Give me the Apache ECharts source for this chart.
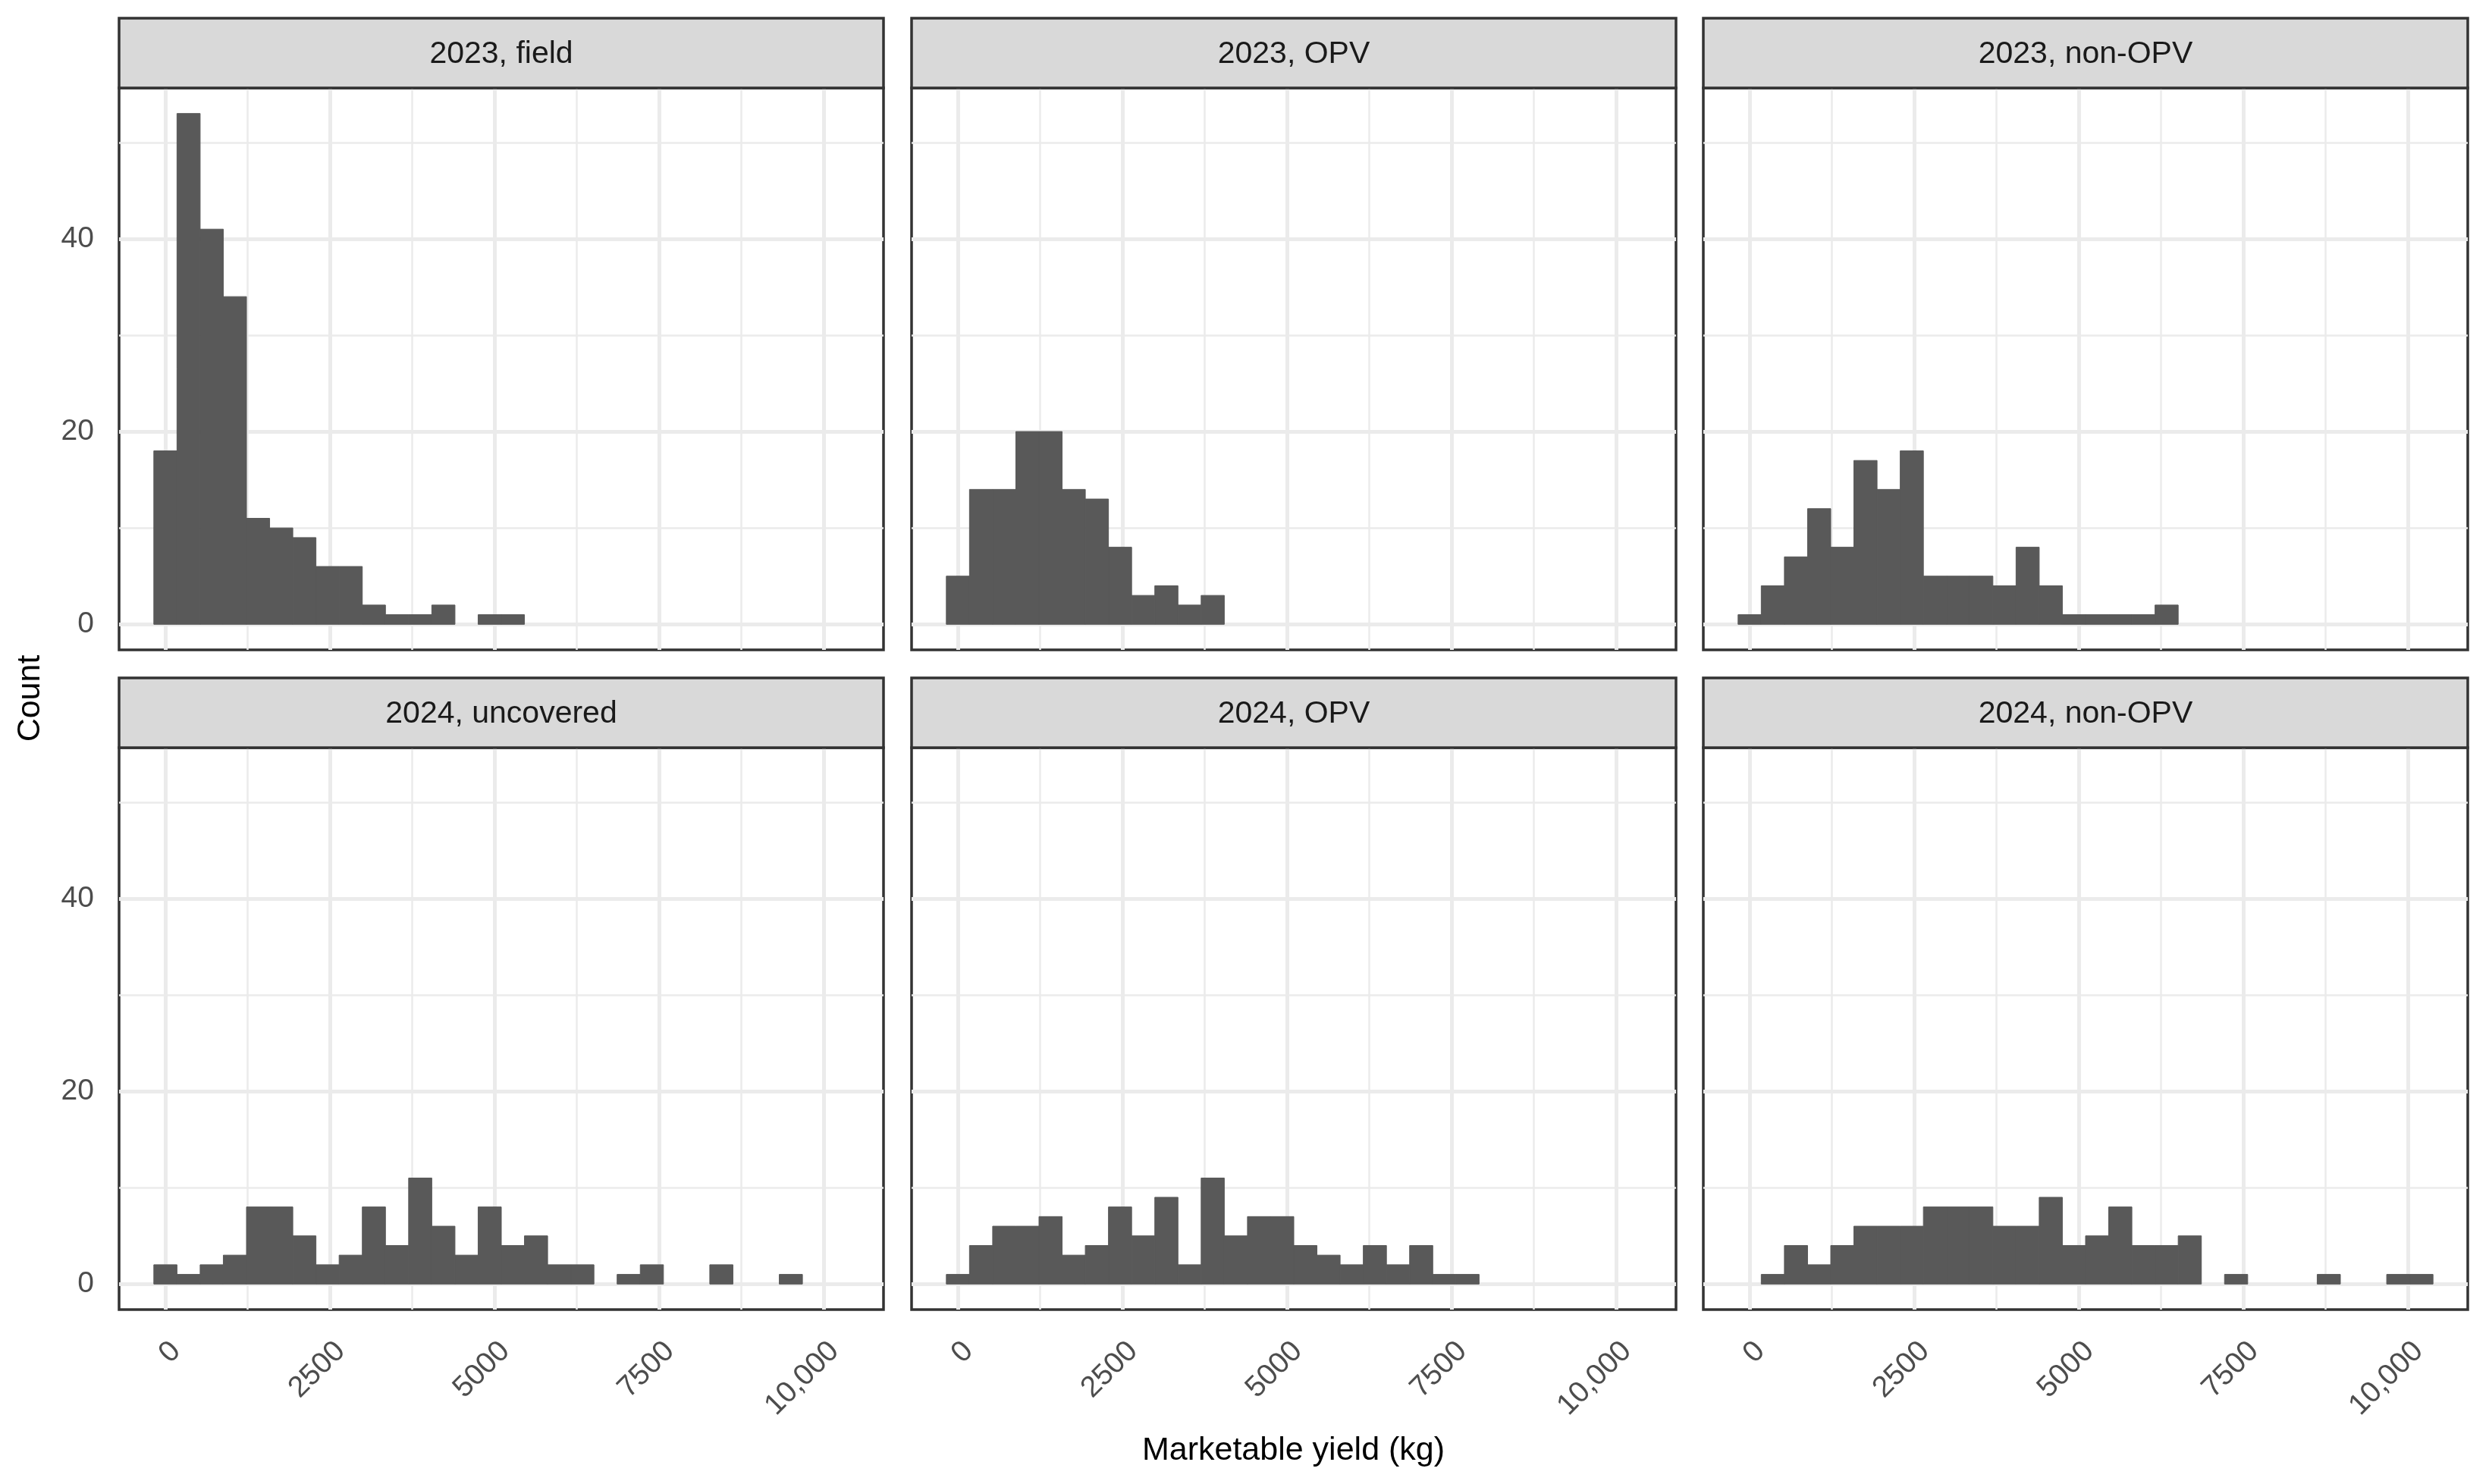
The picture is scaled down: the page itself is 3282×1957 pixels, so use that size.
<!DOCTYPE html>
<html>
<head>
<meta charset="utf-8">
<script src="https://cdn.jsdelivr.net/npm/echarts@6/dist/echarts.min.js"></script>
<style>
html, body { margin: 0; padding: 0; background: #ffffff; }
#chart { width: 3282px; height: 1957px; }
</style>
</head>
<body>
<div id="chart"></div>
<script>
// ---------------- data ----------------
const PANEL_TITLES = ['2023, field', '2023, OPV', '2023, non-OPV', '2024, uncovered', '2024, OPV', '2024, non-OPV'];

// histogram bins (30 bins, centred from first to last centre)
const BIN_CENTER_FIRST = 0;
const BIN_CENTER_LAST = 10204;
const BIN_COUNT = 30;

// counts per bin
const COUNTS_2023_FIELD    = [18, 53, 41, 34, 11, 10, 9, 6, 6, 2, 1, 1, 2, 0, 1, 1, 0, 0, 0, 0, 0, 0, 0, 0, 0, 0, 0, 0, 0, 0];
const COUNTS_2023_OPV      = [5, 14, 14, 20, 20, 14, 13, 8, 3, 4, 2, 3, 0, 0, 0, 0, 0, 0, 0, 0, 0, 0, 0, 0, 0, 0, 0, 0, 0, 0];
const COUNTS_2023_NONOPV   = [1, 4, 7, 12, 8, 17, 14, 18, 5, 5, 5, 4, 8, 4, 1, 1, 1, 1, 2, 0, 0, 0, 0, 0, 0, 0, 0, 0, 0, 0];
const COUNTS_2024_UNCOVERED= [2, 1, 2, 3, 8, 8, 5, 2, 3, 8, 4, 11, 6, 3, 8, 4, 5, 2, 2, 0, 1, 2, 0, 0, 2, 0, 0, 1, 0, 0];
const COUNTS_2024_OPV      = [1, 4, 6, 6, 7, 3, 4, 8, 5, 9, 2, 11, 5, 7, 7, 4, 3, 2, 4, 2, 4, 1, 1, 0, 0, 0, 0, 0, 0, 0];
const COUNTS_2024_NONOPV   = [0, 1, 4, 2, 4, 6, 6, 6, 8, 8, 8, 6, 6, 9, 4, 5, 8, 4, 4, 5, 0, 1, 0, 0, 0, 1, 0, 0, 1, 1];

const X_TICKS = [0, 2500, 5000, 7500, 10000];
const X_TICK_LABELS = ['0', '2500', '5000', '7500', '10,000'];
const X_MINOR = [1250, 3750, 6250, 8750];
const Y_TICKS = [0, 20, 40];
const Y_TICK_LABELS = ['0', '20', '40'];
const Y_MINOR = [10, 30, 50];

const X_TITLE = 'Marketable yield (kg)';
const Y_TITLE = 'Count';

// ---------------- derived ----------------
const ALL_COUNTS = [COUNTS_2023_FIELD, COUNTS_2023_OPV, COUNTS_2023_NONOPV,
                    COUNTS_2024_UNCOVERED, COUNTS_2024_OPV, COUNTS_2024_NONOPV];
const BIN_W = (BIN_CENTER_LAST - BIN_CENTER_FIRST) / (BIN_COUNT - 1);
const EDGE_LO = BIN_CENTER_FIRST - BIN_W / 2;
const EDGE_HI = BIN_CENTER_LAST + BIN_W / 2;
const X_MIN = EDGE_LO - 0.05 * (EDGE_HI - EDGE_LO);
const X_MAX = EDGE_HI + 0.05 * (EDGE_HI - EDGE_LO);
const Y_TOP = Math.max(...ALL_COUNTS.map(a => Math.max(...a)));
const Y_MIN = -0.05 * Y_TOP;
const Y_MAX = Y_TOP * 1.05;

// ---------------- layout ----------------
const FONT = 'Liberation Sans, Arial, Helvetica, sans-serif';
const COL_LEFT = [157, 1202, 2246];
const PANEL_W = 1008;
const ROW_TOP = [116, 986];
const PANEL_H = 741;
const STRIP_H = 92;
const BORDER = '#333333';
const BAR = '#595959';

const grids = [], xAxes = [], yAxes = [], series = [], graphics = [];

function pickLabel(v, ticks, labels) {
  for (let i = 0; i < ticks.length; i++) if (Math.abs(ticks[i] - v) < 1e-6) return labels[i];
  return '';
}

for (let p = 0; p < 6; p++) {
  const row = Math.floor(p / 3), col = p % 3;
  const left = COL_LEFT[col], top = ROW_TOP[row];
  const bottomRow = row === 1, leftCol = col === 0;

  grids.push({
    left: left, top: top, width: PANEL_W, height: PANEL_H,
    show: true, backgroundColor: '#ffffff', borderColor: BORDER, borderWidth: 3.5, z: 0
  });

  xAxes.push({
    type: 'value', gridIndex: p, min: X_MIN, max: X_MAX,
    axisLine: { show: false },
    splitLine: { show: false },
    axisTick: { show: bottomRow, length: 18, customValues: X_TICKS, lineStyle: { color: BORDER, width: 5 } },
    axisLabel: {
      show: bottomRow, customValues: X_TICKS, rotate: 45, margin: 35, verticalAlign: 'top',
      formatter: v => pickLabel(v, X_TICKS, X_TICK_LABELS),
      fontSize: 39, fontFamily: FONT, color: '#4D4D4D'
    }
  });

  yAxes.push({
    type: 'value', gridIndex: p, min: Y_MIN, max: Y_MAX,
    axisLine: { show: false },
    splitLine: { show: false },
    axisTick: { show: leftCol, length: 17, customValues: Y_TICKS, lineStyle: { color: BORDER, width: 5 } },
    axisLabel: {
      show: leftCol, customValues: Y_TICKS, margin: 33,
      formatter: v => pickLabel(v, Y_TICKS, Y_TICK_LABELS),
      fontSize: 39, fontFamily: FONT, color: '#4D4D4D'
    }
  });

  // grid lines (behind bars)
  const gl = [];
  X_MINOR.forEach(v => gl.push({ xAxis: v, lineStyle: { color: '#EBEBEB', width: 2.5, type: 'solid' } }));
  Y_MINOR.forEach(v => gl.push({ yAxis: v, lineStyle: { color: '#EBEBEB', width: 2.5, type: 'solid' } }));
  X_TICKS.forEach(v => gl.push({ xAxis: v, lineStyle: { color: '#EBEBEB', width: 5, type: 'solid' } }));
  Y_TICKS.forEach(v => gl.push({ yAxis: v, lineStyle: { color: '#EBEBEB', width: 5, type: 'solid' } }));
  series.push({
    type: 'line', xAxisIndex: p, yAxisIndex: p, data: [], z: 1, silent: true,
    markLine: { z: 1, silent: true, symbol: ['none', 'none'], label: { show: false }, animation: false, data: gl }
  });

  // histogram bars
  const counts = ALL_COUNTS[p];
  const data = [];
  counts.forEach((c, k) => {
    if (c > 0) data.push([EDGE_LO + k * BIN_W, EDGE_LO + (k + 1) * BIN_W, c]);
  });
  series.push({
    type: 'custom', xAxisIndex: p, yAxisIndex: p, z: 3, silent: true,
    encode: { x: [0, 1], y: 2 },
    data: data,
    renderItem: function (params, api) {
      const a = api.coord([api.value(0), 0]);
      const b = api.coord([api.value(1), api.value(2)]);
      return {
        type: 'rect',
        shape: { x: a[0], y: b[1], width: b[0] - a[0], height: a[1] - b[1] },
        style: { fill: BAR, stroke: BAR, lineWidth: 1 }
      };
    }
  });

  // strip
  graphics.push({
    type: 'rect', z: 5,
    shape: { x: left, y: top - STRIP_H, width: PANEL_W, height: STRIP_H },
    style: { fill: '#D9D9D9', stroke: BORDER, lineWidth: 3.5 }
  });
  graphics.push({
    type: 'text', z: 6, x: left + PANEL_W / 2, y: top - STRIP_H / 2 + 2,
    style: { text: PANEL_TITLES[p], fontSize: 41, fontFamily: FONT, fill: '#1A1A1A', align: 'center', verticalAlign: 'middle' }
  });
}

graphics.push({
  type: 'text', z: 6, x: COL_LEFT[0] + (COL_LEFT[2] + PANEL_W - COL_LEFT[0]) / 2, y: 1913,
  style: { text: X_TITLE, fontSize: 43, fontFamily: FONT, fill: '#000000', align: 'center', verticalAlign: 'middle' }
});
graphics.push({
  type: 'text', z: 6, x: 40, y: 921, rotation: Math.PI / 2,
  style: { text: Y_TITLE, fontSize: 43, fontFamily: FONT, fill: '#000000', align: 'center', verticalAlign: 'middle' }
});

const chart = echarts.init(document.getElementById('chart'), null, { renderer: 'canvas' });
chart.setOption({
  animation: false,
  backgroundColor: '#ffffff',
  grid: grids,
  xAxis: xAxes,
  yAxis: yAxes,
  series: series,
  graphic: graphics
});
</script>
</body>
</html>
